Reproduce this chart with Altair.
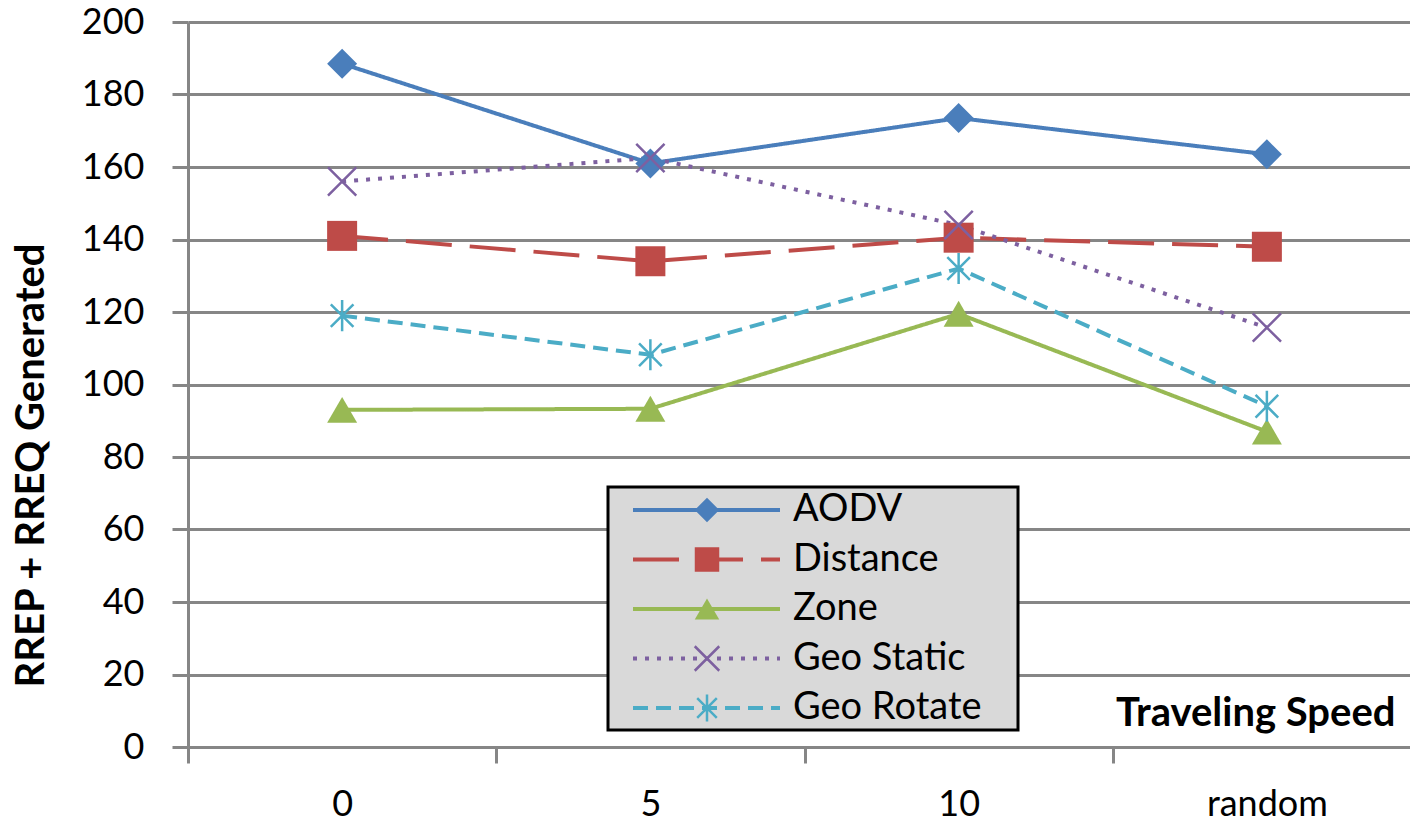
import altair as alt
import pandas as pd

speeds = ["0", "5", "10", "random"]
series = ["AODV", "Distance", "Zone", "Geo Static", "Geo Rotate"]
aodv = [188.5, 161, 173.5, 163.5]
distance = [141, 134, 140.5, 138]
zone = [93, 93.3, 119.5, 87]
geo_static = [156, 162.5, 144, 115.7]
geo_rotate = [119, 108.2, 132, 94]

colors = ["#4a7ebb", "#be4b48", "#98b954", "#7d60a0", "#4bacc6"]
dashes = [[1, 0], [46, 18], [1, 0], [4, 8], [15, 8]]
x_path = "M-1,-1L1,1M-1,1L1,-1"
ast_path = "M-0.8,-0.8L0.8,0.8M-0.8,0.8L0.8,-0.8M0,-1.1L0,1.1"
shapes = ["diamond", "square", "triangle-up", x_path, ast_path]

rows = []
for name, vals in zip(series, [aodv, distance, zone, geo_static, geo_rotate]):
    for s, v in zip(speeds, vals):
        rows.append({"speed": s, "value": v, "series": name})
df = pd.DataFrame(rows)
leg = pd.DataFrame({"series": series})

FONT = "Lato"
GRID = "#868686"

color = alt.Color("series:N", scale=alt.Scale(domain=series, range=colors), legend=None)
dash = alt.StrokeDash("series:N", scale=alt.Scale(domain=series, range=dashes), legend=None)
shape = alt.Shape("series:N", scale=alt.Scale(domain=series, range=shapes), legend=None)

x = alt.X(
    "speed:N",
    sort=speeds,
    scale=alt.Scale(type="band", domain=speeds, range=[0, 1233], paddingInner=0, paddingOuter=0),
    axis=alt.Axis(
        tickBand="extent", labelAngle=0, domainColor=GRID, domainWidth=3,
        tickColor=GRID, tickWidth=3, tickSize=16, labelFont=FONT, labelFontSize=36,
        labelColor="black", labelPadding=24,
        title="Traveling Speed", titleFont=FONT, titleFontSize=40, titleFontWeight="bold",
        titleColor="black", titleX=1207, titleY=-22, titleAlign="right",
        titleBaseline="alphabetic",
    ),
)
y = alt.Y(
    "value:Q",
    scale=alt.Scale(domain=[0, 200], nice=False),
    axis=alt.Axis(
        values=list(range(0, 201, 20)), grid=True, gridColor=GRID, gridWidth=3,
        domainColor=GRID, domainWidth=3, tickColor=GRID, tickWidth=3, tickSize=16,
        labelFont=FONT, labelFontSize=36, labelColor="black", labelPadding=28,
        title="RREP + RREQ Generated", titleFont=FONT, titleFontSize=40,
        titleFontWeight="bold", titleColor="black", titleAngle=270,
        titleX=-157, titleY=443, titleAlign="center", titleBaseline="middle",
    ),
)

base = alt.Chart(df)
lines = base.mark_line(strokeWidth=4).encode(x=x, y=y, color=color, strokeDash=dash, detail="series:N")
filled_pts = base.transform_filter(
    alt.FieldOneOfPredicate(field="series", oneOf=series[:3])
).mark_point(filled=True, opacity=1, size=900).encode(x=x, y=y, color=color, shape=shape)
open_pts = base.transform_filter(
    alt.FieldOneOfPredicate(field="series", oneOf=series[3:])
).mark_point(filled=False, opacity=1, size=800, strokeWidth=2.5).encode(x=x, y=y, color=color, shape=shape)
main = alt.layer(lines, filled_pts, open_pts)

leg_y = alt.Y("series:N", scale=alt.Scale(type="point", domain=series, range=[488, 686], padding=0), axis=None)
leg_box = alt.Chart(pd.DataFrame({"a": [0]})).mark_rect(
    fill="#d9d9d9", stroke="black", strokeWidth=3
).encode(x=alt.value(420), x2=alt.value(830), y=alt.value(465), y2=alt.value(708))
leg_lines = alt.Chart(leg).mark_rule(strokeWidth=4).encode(
    x=alt.value(445), x2=alt.value(592), y=leg_y, color=color, strokeDash=dash
)
leg_filled = alt.Chart(leg).transform_filter(
    alt.FieldOneOfPredicate(field="series", oneOf=series[:3])
).mark_point(filled=True, opacity=1, size=600).encode(x=alt.value(519), y=leg_y, color=color, shape=shape)
leg_open = alt.Chart(leg).transform_filter(
    alt.FieldOneOfPredicate(field="series", oneOf=series[3:])
).mark_point(filled=False, opacity=1, size=600, strokeWidth=2.5).encode(x=alt.value(519), y=leg_y, color=color, shape=shape)
leg_text = alt.Chart(leg).mark_text(
    align="left", baseline="middle", font=FONT, fontSize=38, color="black"
).encode(x=alt.value(605), y=leg_y, text="series:N")
legend = alt.layer(leg_lines, leg_filled, leg_open, leg_text)

chart = alt.layer(main, leg_box, legend).resolve_scale(y="independent").properties(
    width=1222, height=725,
    autosize=alt.AutoSizeParams(type="none"),
    padding={"left": 188, "top": 22, "right": 0, "bottom": 75},
    background="white",
).configure_view(stroke=None)

chart.save("out.html", embed_options={"renderer": "svg", "actions": False})
